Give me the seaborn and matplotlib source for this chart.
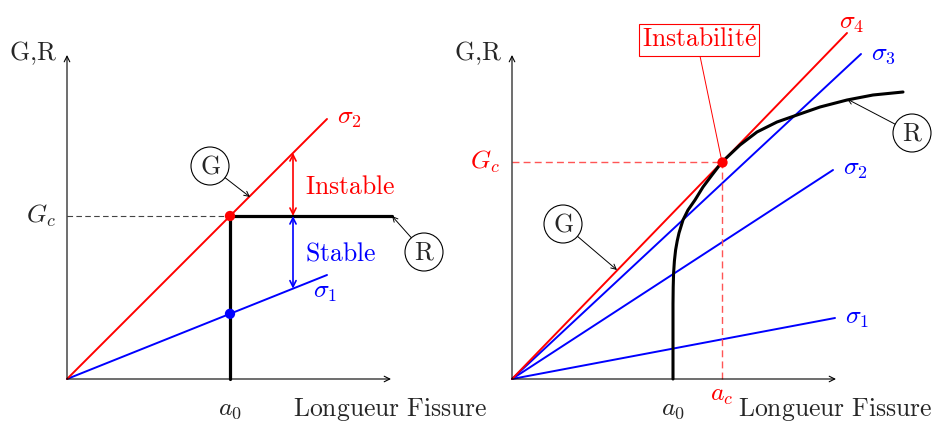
import numpy as np
import pandas as pd
import seaborn as sns
from matplotlib import pyplot as plt
from matplotlib.patches import Circle

# left panel: constant R (brittle material)
left_a0 = 163
left_gc = 163
left_a_end = 260
left_sigma_names = ["$\\sigma_1$", "$\\sigma_2$"]
left_sigma_g_end = [104, 260]
left_sigma_colors = ["blue", "red"]

# right panel: rising R-curve
right_a0 = 161
right_ac = 210
right_gc = 217
right_sigma_names = ["$\\sigma_1$", "$\\sigma_2$", "$\\sigma_3$", "$\\sigma_4$"]
right_sigma_a_end = [323, 321, 349, 335]
right_sigma_g_end = [61, 209, 325, 346]
right_sigma_colors = ["blue", "blue", "blue", "red"]
r_curve_a = [161, 161, 161, 161.2, 161.6, 162.4, 163.6, 165.2, 167, 171, 176, 183, 191, 200, 210,
             228, 245, 265, 285, 308, 335, 361, 391]
r_curve_g = [0, 40, 75, 92, 106, 118, 129, 138, 146, 159, 169, 179, 192, 204, 217,
             234, 247, 257, 264, 272, 279, 284, 287]

AXIS_LEN = 324
FS = 18.5


def txt(s):
    return "$\\mathrm{" + s.replace(" ", "\\ ") + "}$"


def draw_axes(ax):
    arrow = dict(arrowstyle="->", lw=0.8, color="black", shrinkA=0, shrinkB=0, mutation_scale=10)
    ax.annotate("", xy=(AXIS_LEN, 0), xytext=(0, 0), arrowprops=arrow)
    ax.annotate("", xy=(0, AXIS_LEN), xytext=(0, 0), arrowprops=arrow)
    ax.text(-34, 326, txt("G{,}R"), fontsize=FS, ha="center", va="center")
    ax.text(226, -30, txt("Longueur Fissure"), fontsize=FS, ha="left", va="center")


def tag(ax, label, center, target, r=19):
    cx, cy = center
    ax.add_patch(Circle(center, r, fill=False, ec="black", lw=0.8, clip_on=False))
    ax.text(cx, cy, txt(label), fontsize=FS, ha="center", va="center")
    d = np.array(target) - np.array(center)
    start = np.array(center) + d / np.linalg.norm(d) * r
    ax.annotate("", xy=target, xytext=tuple(start),
                arrowprops=dict(arrowstyle="->", lw=0.7, color="black", shrinkA=0, shrinkB=0,
                                mutation_scale=9))


def plot():
    sns.set_style("white")
    plt.rcParams["mathtext.fontset"] = "cm"

    fig = plt.figure(figsize=(9.37, 4.23), dpi=100)
    w_left = 440 / 937
    ax1 = fig.add_axes([0, 0, w_left, 1])
    ax2 = fig.add_axes([w_left, 0, 1 - w_left, 1])
    ax1.set_xlim(-67, 373)
    ax1.set_ylim(-44, 379)
    ax2.set_xlim(-72, 425)
    ax2.set_ylim(-44, 379)
    for ax in (ax1, ax2):
        ax.axis("off")
        ax.patch.set_alpha(0)
        draw_axes(ax)

    # ---- left panel ----
    ax = ax1
    lines = pd.DataFrame({
        "a": [0, left_a_end] * 2,
        "G": [0, left_sigma_g_end[0], 0, left_sigma_g_end[1]],
        "sigma": [left_sigma_names[0]] * 2 + [left_sigma_names[1]] * 2,
    })
    sns.lineplot(data=lines, x="a", y="G", hue="sigma", palette=left_sigma_colors,
                 sort=False, estimator=None, lw=1.4, legend=False, ax=ax)
    ax.text(left_a_end + 22, left_sigma_g_end[1] + 2, left_sigma_names[1], color="red",
            fontsize=FS, ha="center", va="center")
    ax.text(left_a_end - 2, left_sigma_g_end[0] - 16, left_sigma_names[0], color="blue",
            fontsize=FS, ha="center", va="center")

    ax.plot([0, left_a0], [left_gc, left_gc], ls=(0, (5, 3)), color="#444444", lw=0.8)
    ax.plot([left_a0, left_a0, 325], [0, left_gc, left_gc], color="black", lw=2.3,
            solid_joinstyle="miter")

    slope1 = left_sigma_g_end[0] / left_a_end
    slope2 = left_sigma_g_end[1] / left_a_end
    dots = pd.DataFrame({"a": [left_a0, left_a0], "G": [slope1 * left_a0, left_gc]})
    sns.scatterplot(data=dots, x="a", y="G", c=["blue", "red"], s=55, linewidth=0, zorder=5, ax=ax)

    xa = 226
    ax.annotate("", xy=(xa, slope2 * xa), xytext=(xa, left_gc),
                arrowprops=dict(arrowstyle="<->", color="red", lw=1.2, shrinkA=0, shrinkB=0,
                                mutation_scale=11))
    ax.annotate("", xy=(xa, slope1 * xa), xytext=(xa, left_gc),
                arrowprops=dict(arrowstyle="<->", color="blue", lw=1.2, shrinkA=0, shrinkB=0,
                                mutation_scale=11))
    ax.text(238, 192, txt("Instable"), color="red", fontsize=FS, ha="left", va="center")
    ax.text(238, 126, txt("Stable"), color="blue", fontsize=FS, ha="left", va="center")

    ax.text(-11, left_gc, "$G_c$", fontsize=FS, ha="right", va="center")
    ax.text(left_a0, -29, "$a_0$", fontsize=FS, ha="center", va="center")
    tag(ax, "G", (143, 213), (183, 182))
    tag(ax, "R", (357, 127), (325, 163))

    # ---- right panel ----
    ax = ax2
    rows = []
    for name, ae, ge in zip(right_sigma_names, right_sigma_a_end, right_sigma_g_end):
        rows += [(0, 0, name), (ae, ge, name)]
    lines = pd.DataFrame(rows, columns=["a", "G", "sigma"])
    sns.lineplot(data=lines, x="a", y="G", hue="sigma", palette=right_sigma_colors,
                 sort=False, estimator=None, lw=1.4, legend=False, ax=ax)
    label_pos = [(345, 62), (343, 211), (371, 326), (340, 357)]
    for name, col, (lx, ly) in zip(right_sigma_names, right_sigma_colors, label_pos):
        ax.text(lx, ly, name, color=col, fontsize=FS, ha="center", va="center")

    rc = pd.DataFrame({"a": r_curve_a, "G": r_curve_g})
    sns.lineplot(data=rc, x="a", y="G", sort=False, estimator=None, color="black", lw=2.2,
                 solid_joinstyle="round", ax=ax)

    dash_red = dict(ls=(0, (5, 3)), color="#ff5555", lw=1.0)
    ax.plot([0, right_ac], [right_gc, right_gc], **dash_red)
    ax.plot([right_ac, right_ac], [0, right_gc], **dash_red)
    ax.scatter([right_ac], [right_gc], color="red", s=55, linewidth=0, zorder=5)

    ax.plot([188, right_ac], [323, right_gc], color="red", lw=0.7)
    ax.text(187, 339, txt("Instabilit\\acute{e}"), color="red", fontsize=FS, ha="center", va="center",
            bbox=dict(boxstyle="square,pad=0.1", fc="white", ec="red", lw=0.8))

    ax.text(-12, right_gc, "$G_c$", color="red", fontsize=FS, ha="right", va="center")
    ax.text(right_ac, -15, "$a_c$", color="red", fontsize=FS, ha="center", va="center")
    ax.text(right_a0, -29, "$a_0$", fontsize=FS, ha="center", va="center")
    tag(ax, "G", (51, 155), (105, 109))
    tag(ax, "R", (400, 246), (335, 280))
    ax.set_xlim(-72, 425)
    ax.set_ylim(-44, 379)

    fig.savefig("out.png", dpi=100)


if __name__ == '__main__':
    plot()
